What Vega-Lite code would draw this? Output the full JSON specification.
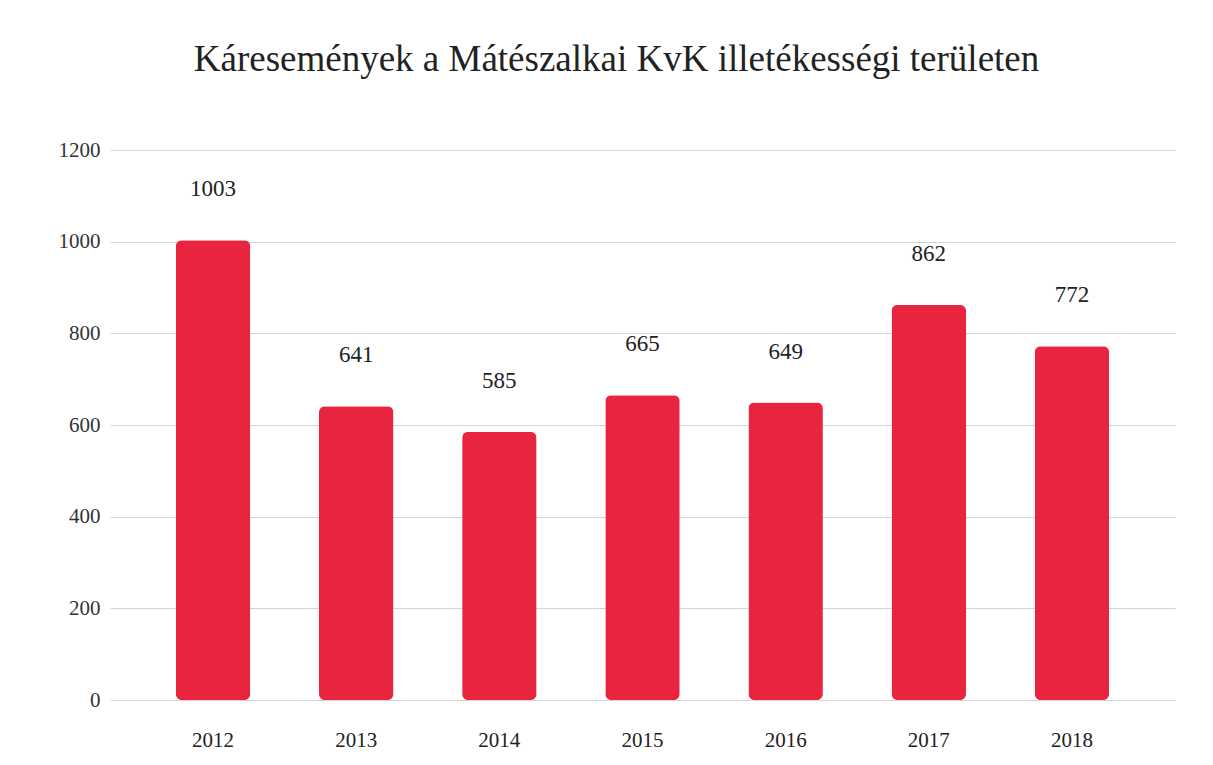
{
  "$schema": "https://vega.github.io/schema/vega-lite/v6.json",
  "autosize": "none",
  "width": 1065,
  "height": 550,
  "padding": {"left": 110, "top": 150, "right": 38, "bottom": 65},
  "background": "white",
  "title": {
    "text": "Káresemények a Mátészalkai KvK illetékességi területen",
    "font": "Liberation Serif",
    "fontSize": 37,
    "fontWeight": "normal",
    "color": "#222222",
    "anchor": "middle",
    "frame": "group",
    "offset": 60,
    "dx": -26
  },
  "data": {
    "values": [
      {"ev": "2012", "darab": 1003},
      {"ev": "2013", "darab": 641},
      {"ev": "2014", "darab": 585},
      {"ev": "2015", "darab": 665},
      {"ev": "2016", "darab": 649},
      {"ev": "2017", "darab": 862},
      {"ev": "2018", "darab": 772}
    ]
  },
  "encoding": {
    "x": {
      "field": "ev",
      "type": "ordinal",
      "title": null,
      "scale": {"paddingInner": 0.48, "paddingOuter": 0.46},
      "axis": {
        "labelAngle": 0,
        "ticks": false,
        "domain": false,
        "labelPadding": 29,
        "labelFont": "Liberation Serif",
        "labelFontSize": 21,
        "labelColor": "#222222"
      }
    },
    "y": {
      "field": "darab",
      "type": "quantitative",
      "title": null,
      "scale": {"domain": [0, 1200]},
      "axis": {
        "values": [0, 200, 400, 600, 800, 1000, 1200],
        "format": "d",
        "ticks": false,
        "domain": false,
        "labelPadding": 10,
        "labelFont": "Liberation Serif",
        "labelFontSize": 21,
        "labelColor": "#333333",
        "gridColor": "#d4d4d4",
        "gridWidth": 1
      }
    }
  },
  "layer": [
    {
      "mark": {"type": "bar", "color": "#e8243f", "cornerRadius": 6}
    },
    {
      "mark": {
        "type": "text",
        "font": "Liberation Serif",
        "fontSize": 23,
        "color": "#222222",
        "baseline": "middle",
        "dy": -51
      },
      "encoding": {"text": {"field": "darab", "type": "quantitative", "format": "d"}}
    }
  ],
  "config": {
    "font": "Liberation Serif",
    "axis": {"labelFont": "Liberation Serif"},
    "text": {"font": "Liberation Serif"},
    "view": {"stroke": null}
  }
}
